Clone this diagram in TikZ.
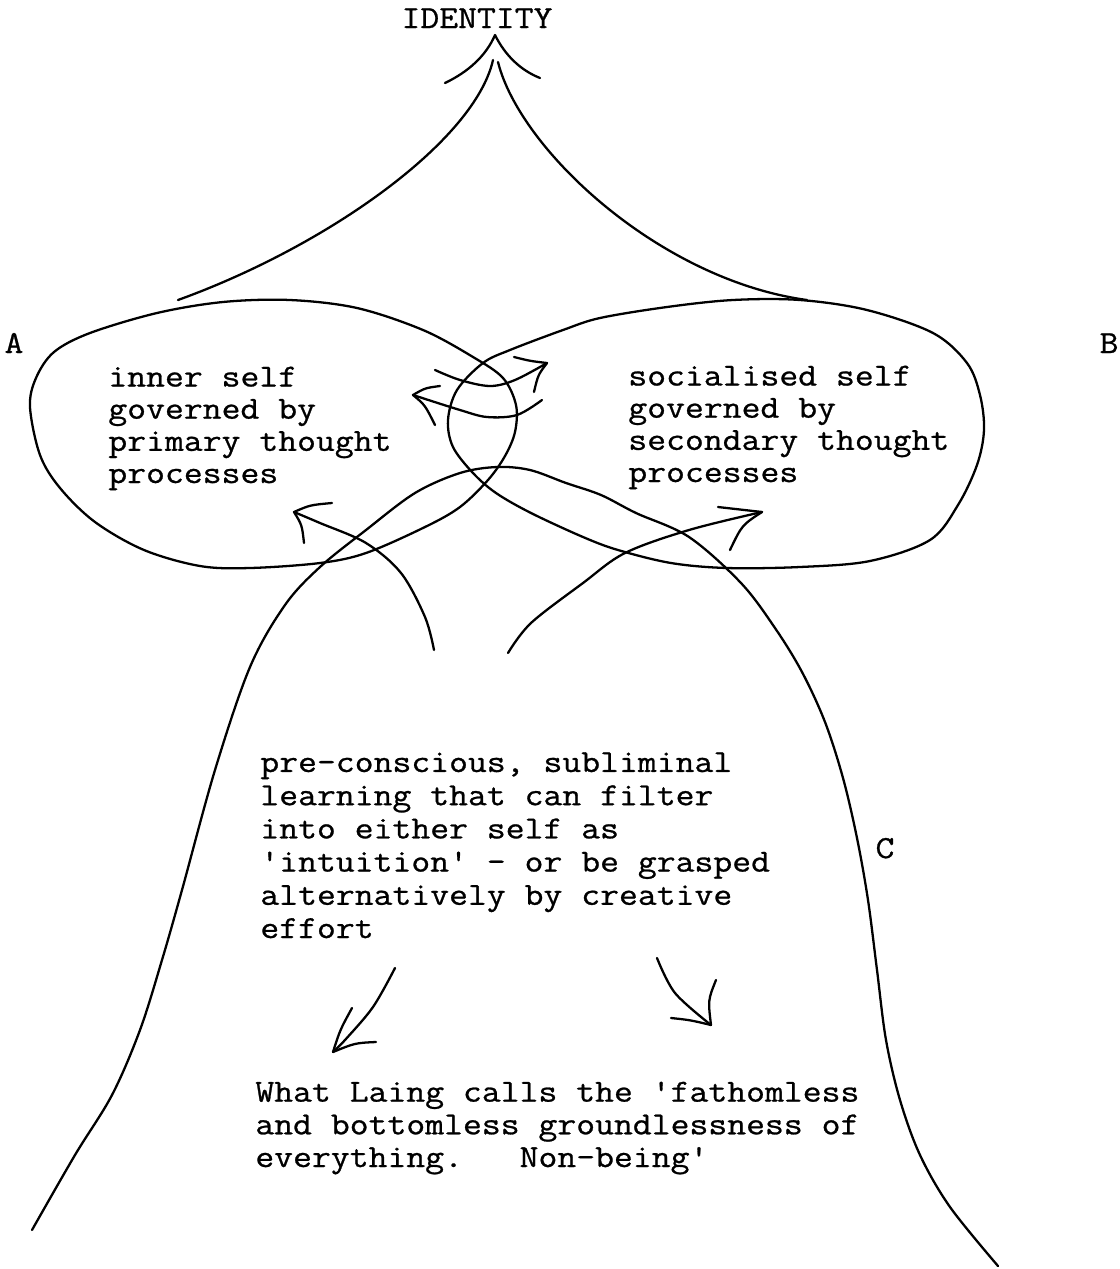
\documentclass[tikz,border=0pt]{standalone}
\usepackage{fontspec}
\setmonofont{Latin Modern Mono}[FakeStretch=1.14, FakeBold=0.8]
\begin{document}
\begin{tikzpicture}[x=0.02cm,y=-0.02cm,
  pen/.style={line width=1.3pt, line cap=round, line join=round},
  curve/.style={pen, smooth, tension=0.55},
  typed/.style={font=\ttfamily\fontsize{18.3pt}{18.3pt}\selectfont, inner sep=0pt, align=left, anchor=base west}]
\useasboundingbox (0,0) rectangle (1120,1269);

% labels (multi-line blocks are placed by the baseline of their last line)
\node[typed, anchor=base] (identity) at (477,28) {IDENTITY};
\node[typed, anchor=base] (A) at (14,353) {A};
\node[typed, anchor=base] (B) at (1109,353) {B};
\node[typed, anchor=base] (C) at (885,858) {C};

\node[typed] (inner) at (108,483) {inner self\\governed by\\primary thought\\processes};
\node[typed] (social) at (628,482) {socialised self\\governed by\\secondary thought\\processes};
\node[typed, font=\ttfamily\fontsize{18.3pt}{18.9pt}\selectfont] (pre) at (260,938)
  {pre-conscious, subliminal\\learning that can filter\\into either self as\\'intuition' - or be grasped\\alternatively by creative\\effort};
\node[typed, font=\ttfamily\fontsize{18.3pt}{18.6pt}\selectfont] (laing) at (255,1167)
  {What Laing calls the 'fathomless\\and bottomless groundlessness of\\everything.\ \ \ Non-being'};

% arrow up to identity
\coordinate (idtip) at (495,35);
\coordinate (idleft) at (178,300);
\coordinate (idright) at (807,300);
\draw[pen] (445,83) .. controls (468,72) and (486,56) .. (idtip) .. controls (505,55) and (520,70) .. (540,78);
\draw[pen] (493,60) .. controls (475,140) and (330,245) .. (idleft);
\draw[pen] (498,62) .. controls (520,150) and (660,280) .. (idright);

% the two selves
\draw[curve] plot[smooth cycle] coordinates {(30,407) (36,378) (54,352) (90,333) (157,313) (223,302) (290,300) (357,308) (423,330) (473,357) (503,378) (516,405) (515,432) (505,456) (488,480) (460,507) (425,527) (366,553) (320,563) (250,568) (200,566) (144,550) (95,522) (60,488) (40,455)};
\draw[curve] plot[smooth cycle] coordinates {(483,363) (510,350) (563,330) (600,318) (667,307) (733,300) (800,300) (867,310) (933,333) (967,363) (980,395) (984,430) (977,465) (958,505) (930,540) (870,561) (800,567) (727,568) (671,563) (618,550) (583,537) (531,513) (496,493) (473,473) (453,447) (448,420) (457,390)};

% exchange between the selves
\draw[curve] plot coordinates {(435,370) (460,380) (490,386) (515,380) (547,363)};
\draw[pen] (514,357) .. controls (530,361) .. (547,363) .. controls (538,375) .. (534,392);
\draw[curve] plot coordinates {(542,400) (517,415) (487,417) (460,410) (413,395)};
\draw[pen] (440,386) .. controls (425,388) .. (413,395) .. controls (425,405) .. (435,425);

% the pre-conscious region
\draw[curve] plot coordinates {(32,1230) (75,1155) (112,1095) (140,1030) (162,960) (182,890) (215,770) (250,667) (285,605) (320,567) (366,530) (415,493) (460,473) (497,467) (530,470) (566,483) (601,495) (636,513) (689,537) (741,583) (775,628) (802,672) (825,722) (843,778) (857,838) (868,900) (877,970) (886,1040) (900,1100) (920,1155) (950,1207) (998,1266)};

% filtering up into either self
\draw[curve] plot coordinates {(434,650) (425,617) (401,573) (366,543) (320,523) (294,512)};
\draw[pen] (332,503) .. controls (310,505) .. (294,512) .. controls (302,525) .. (304,543);
\draw[curve] plot coordinates {(508,653) (531,623) (583,583) (625,553) (689,530) (762,512)};
\draw[pen] (718,507) .. controls (740,510) .. (762,512) .. controls (742,525) .. (730,550);

% down into groundlessness
\draw[curve] plot coordinates {(395,968) (373,1007) (345,1040) (333,1052)};
\draw[pen] (352,1008) .. controls (340,1030) .. (333,1052) .. controls (355,1043) .. (376,1042);
\draw[curve] plot coordinates {(657,958) (675,993) (711,1025)};
\draw[pen] (671,1018) .. controls (690,1020) .. (711,1025) .. controls (708,1000) .. (716,980);
\end{tikzpicture}
\end{document}
